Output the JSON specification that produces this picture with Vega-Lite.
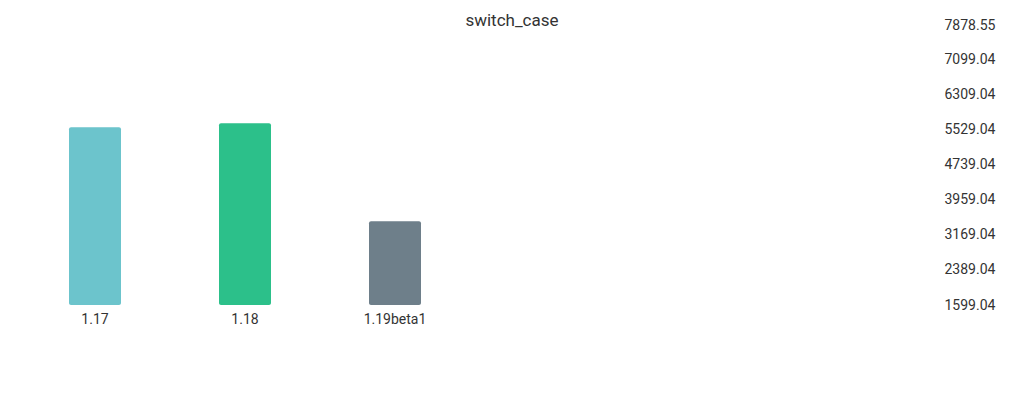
{
  "$schema": "https://vega.github.io/schema/vega-lite/v6.json",
  "autosize": {"type": "none"},
  "width": 900,
  "height": 280,
  "padding": {"left": 20, "top": 25, "right": 104, "bottom": 95},
  "background": "white",
  "title": {"text": "switch_case", "anchor": "middle", "dx": 42, "offset": -12, "font": "Roboto", "fontSize": 17, "fontWeight": "normal", "color": "#333333"},
  "data": {"values": [
    {"version": "1.17", "value": 5584},
    {"version": "1.18", "value": 5674},
    {"version": "1.19beta1", "value": 3476}
  ]},
  "mark": {"type": "bar", "width": 52, "cornerRadius": 2},
  "encoding": {
    "x": {"field": "version", "type": "nominal", "sort": null,
      "scale": {"domain": ["1.17", "1.18", "1.19beta1", " ", "  ", "   "], "paddingInner": 0, "paddingOuter": 0},
      "axis": {"title": null, "labelAngle": 0, "ticks": false, "domain": false, "labelPadding": 7, "labelFont": "Roboto", "labelFontSize": 14, "labelColor": "#333333", "grid": false}},
    "y": {"field": "value", "type": "quantitative",
      "scale": {"domain": [1599.04, 7878.55], "zero": false, "nice": false},
      "axis": {"orient": "right", "title": null, "ticks": false, "domain": false, "grid": false, "labelPadding": 24, "labelFont": "Roboto", "labelFontSize": 14, "labelColor": "#333333",
        "values": [1599.04, 2389.04, 3169.04, 3959.04, 4739.04, 5529.04, 6309.04, 7099.04, 7878.55], "format": ".2f", "labelFlush": false, "labelOverlap": false}},
    "y2": {"datum": 1599.04},
    "color": {"field": "version", "type": "nominal",
      "scale": {"domain": ["1.17", "1.18", "1.19beta1"], "range": ["#6cc4cc", "#2cc08a", "#6e7f8a"]},
      "legend": null}
  },
  "config": {"view": {"stroke": null}}
}
